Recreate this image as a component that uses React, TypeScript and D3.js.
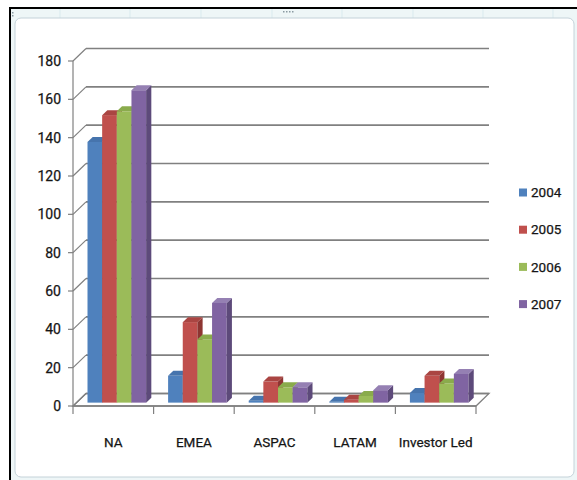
import React from "react";
import * as d3 from "d3";

// Regions on the category axis
const categories = ["NA", "EMEA", "ASPAC", "LATAM", "Investor Led"];
// One series per year
const seriesNames = ["2004", "2005", "2006", "2007"];
const values2004 = [136, 14, 1, 0.5, 5];
const values2005 = [150, 42, 11, 1.5, 14];
const values2006 = [152, 33, 8, 3.5, 10];
const values2007 = [163, 52, 8, 6.5, 15];
const yTicks = [0, 20, 40, 60, 80, 100, 120, 140, 160, 180];

const seriesValues = [values2004, values2005, values2006, values2007];

// Face colours: front, top, side
const frontColors = ["#4f81bd", "#c0504d", "#9bbb59", "#8064a2"];
const topColors = ["#4674ad", "#aa4542", "#8aab4c", "#9580b3"];
const sideColors = ["#38618f", "#8e3532", "#71893f", "#5d4a7a"];

const W = 577;
const H = 480;

// Oblique depth vector of the plot box
const DX = 13;
const DY = -12.5;
const F0 = 0.27; // front of the bars, as a fraction of depth
const F1 = 0.67; // back of the bars

const font = "Roboto, 'Open Sans', sans-serif";
const gridColor = "#808080";
const textColor = "#151515";

export default function App() {
  const x = d3.scaleBand<string>().domain(categories).range([73, 476]).paddingInner(0).paddingOuter(0);
  const xs = d3
    .scaleBand<string>()
    .domain(seriesNames)
    .range([0, x.bandwidth()])
    .paddingInner(0)
    .paddingOuter(0.75);
  const y = d3.scaleLinear().domain([0, 180]).range([406, 61]);

  const y0 = y(0);
  const xL = x.range()[0];
  const xR = x.range()[1];

  const pts = (p: number[][]) => p.map((q) => q.join(",")).join(" ");

  const bars: React.ReactNode[] = [];
  categories.forEach((cat, ci) => {
    seriesNames.forEach((s, si) => {
      const v = seriesValues[si][ci];
      const bx0 = (x(cat) as number) + (xs(s) as number) + DX * F0;
      const bx1 = bx0 + xs.bandwidth();
      const base = y0 + DY * F0;
      const top = y(v) + DY * F0;
      const ddx = DX * (F1 - F0);
      const ddy = DY * (F1 - F0);
      bars.push(
        <g key={`${cat}-${s}`}>
          <rect x={bx0} y={top} width={bx1 - bx0} height={base - top} fill={frontColors[si]} />
          <polygon
            points={pts([
              [bx1, base],
              [bx1, top],
              [bx1 + ddx, top + ddy],
              [bx1 + ddx, base + ddy],
            ])}
            fill={sideColors[si]}
          />
          <polygon
            points={pts([
              [bx0, top],
              [bx1, top],
              [bx1 + ddx, top + ddy],
              [bx0 + ddx, top + ddy],
            ])}
            fill={topColors[si]}
          />
        </g>
      );
    });
  });

  // faint spreadsheet column lines above the chart object
  const colLines = [60, 130, 201, 272, 342, 413, 483, 553];

  const textProps = { fill: textColor, stroke: textColor, strokeWidth: 0.25 };

  return (
    <svg
      width={W}
      height={H}
      style={{ position: "absolute", left: 0, top: 0, background: "#fff" }}
      fontFamily={font}
    >
      {/* worksheet behind the chart object */}
      <rect x={10} y={8} width={W - 10} height={H - 8} fill="#eef6f7" />
      {colLines.map((cx) => (
        <line key={cx} x1={cx} x2={cx} y1={9} y2={18} stroke="#d9eaee" strokeWidth={1} />
      ))}
      <line x1={10} x2={W} y1={8} y2={8} stroke="#000" strokeWidth={2} />
      <line x1={10} x2={10} y1={7} y2={H} stroke="#000" strokeWidth={2} />

      {/* chart area */}
      <rect x={15} y={18} width={559} height={459} rx={6} fill="#fff" stroke="#c4d2d9" strokeWidth={1} />
      {/* selection handles */}
      {[283, 286, 289, 292].map((hx) => (
        <rect key={hx} x={hx} y={11} width={1.5} height={1.5} fill="#8a9aa2" />
      ))}
      {[12, 15].map((hy) => (
        <rect key={hy} x={12} y={hy} width={1.5} height={1.5} fill="#8a9aa2" />
      ))}

      {/* floor */}
      <polygon
        points={pts([
          [xL, y0],
          [xR, y0],
          [xR + DX, y0 + DY],
          [xL + DX, y0 + DY],
        ])}
        fill="#fff"
        stroke={gridColor}
        strokeWidth={1.3}
      />

      {/* back-wall gridlines and side-wall diagonals */}
      {yTicks.map((t) => (
        <g key={t}>
          <line x1={xL + DX} x2={xR + DX} y1={y(t) + DY} y2={y(t) + DY} stroke={gridColor} strokeWidth={1.6} />
          <line x1={xL} x2={xL + DX} y1={y(t)} y2={y(t) + DY} stroke={gridColor} strokeWidth={1.2} />
          <line x1={xL - 5} x2={xL} y1={y(t)} y2={y(t)} stroke={gridColor} strokeWidth={1.2} />
          <text x={xL - 12} y={y(t)} dy="0.35em" textAnchor="end" fontSize={14} {...textProps}>
            {t}
          </text>
        </g>
      ))}

      {/* value axis line */}
      <line x1={xL} x2={xL} y1={y(180)} y2={y0} stroke={gridColor} strokeWidth={1.2} />

      {/* category axis */}
      <line x1={xL} x2={xR} y1={y0} y2={y0} stroke={gridColor} strokeWidth={1.3} />
      {[...categories.map((c) => x(c) as number), xR].map((tx, i) => (
        <line key={i} x1={tx} x2={tx} y1={y0} y2={y0 + 8} stroke={gridColor} strokeWidth={1.2} />
      ))}
      {categories.map((c) => (
        <text
          key={c}
          x={(x(c) as number) + x.bandwidth() / 2}
          y={442}
          dy="0.35em"
          textAnchor="middle"
          fontSize={13.5}
          {...textProps}
        >
          {c}
        </text>
      ))}

      {bars}

      {/* legend */}
      {seriesNames.map((s, i) => {
        const ly = 192.5 + i * 37.2;
        return (
          <g key={s}>
            <rect x={519} y={ly - 4} width={8} height={8} fill={frontColors[i]} />
            <text x={531} y={ly} dy="0.35em" fontSize={13.5} {...textProps}>
              {s}
            </text>
          </g>
        );
      })}
    </svg>
  );
}
